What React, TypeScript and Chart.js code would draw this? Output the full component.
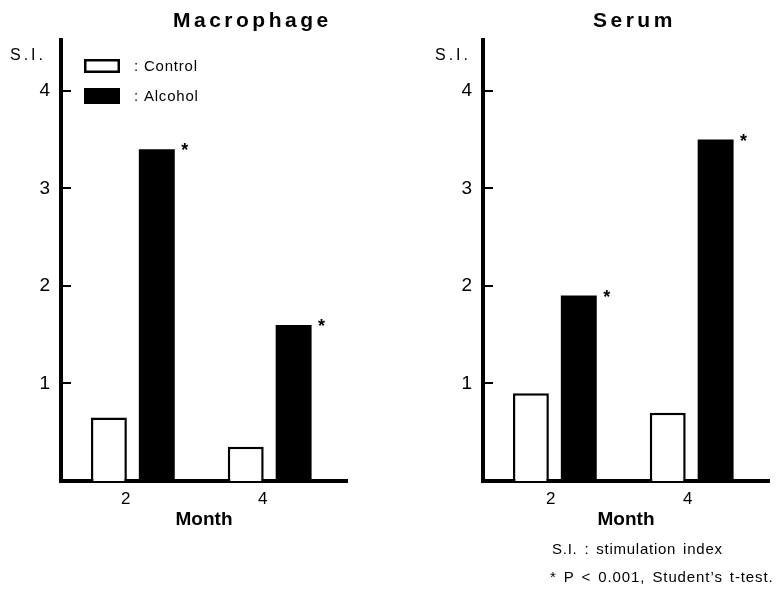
import React, { useEffect, useRef } from 'react';
import { Chart, registerables } from 'chart.js';

Chart.register(...registerables);

const FONT = "'Liberation Sans', Arial, Helvetica, sans-serif";

// Data
const months = [2, 4];
const seriesNames = ['Control', 'Alcohol'];
const yTicks = [1, 2, 3, 4];
const macrophageControl = [0.65, 0.35];
const macrophageAlcohol = [3.4, 1.6];
const macrophageSignificant = [true, true];
const serumControl = [0.9, 0.7];
const serumAlcohol = [1.9, 3.5];
const serumSignificant = [true, true];

const panelTitles = ['Macrophage', 'Serum'];
const yAxisLabel = 'S.I.';
const xAxisLabel = 'Month';
const footnotes = ['S.I. : stimulation index', '* P < 0.001, Student\u2019s t-test.'];

// Boxed legend drawn inside the plot area (left panel only)
const boxLegend = {
  id: 'boxLegend',
  afterDraw(chart: any, _args: any, opts: any) {
    if (!opts || !opts.display) return;
    const { ctx, chartArea } = chart;
    const x = chartArea.left + 23;
    const rows = [
      { top: chartArea.top + 19, h: 14 },
      { top: chartArea.top + 48, h: 16 },
    ];
    ctx.save();
    chart.data.datasets.forEach((ds: any, i: number) => {
      const r = rows[i];
      if (!r) return;
      const bw = ds.borderWidth || 0;
      ctx.fillStyle = ds.backgroundColor;
      ctx.fillRect(x, r.top, 36, r.h);
      if (bw > 0) {
        ctx.strokeStyle = ds.borderColor;
        ctx.lineWidth = bw;
        ctx.strokeRect(x + bw / 2, r.top + bw / 2, 36 - bw, r.h - bw);
      }
      ctx.fillStyle = '#000';
      ctx.font = `15px ${FONT}`;
      (ctx as any).letterSpacing = '0.8px';
      ctx.textAlign = 'left';
      ctx.textBaseline = 'middle';
      ctx.fillText(`: ${ds.label}`, x + 50, r.top + r.h / 2 + 1);
    });
    ctx.restore();
  },
};

// Significance asterisks next to the Alcohol bars
const starMarks = {
  id: 'starMarks',
  afterDatasetsDraw(chart: any, _args: any, opts: any) {
    const flags: boolean[] = (opts && opts.flags) || [];
    const meta = chart.getDatasetMeta(1);
    const { ctx } = chart;
    ctx.save();
    ctx.font = `bold 18px ${FONT}`;
    ctx.fillStyle = '#000';
    ctx.textAlign = 'center';
    ctx.textBaseline = 'alphabetic';
    meta.data.forEach((el: any, i: number) => {
      if (!flags[i]) return;
      const { x, y, width } = el.getProps(['x', 'y', 'width'], true);
      ctx.fillText('*', x + width / 2 + 10, y + 7);
    });
    ctx.restore();
  },
};

type PanelProps = {
  left: number;
  width: number;
  yWidth: number;
  padRight: number;
  labelOffset: number;
  control: number[];
  alcohol: number[];
  flags: boolean[];
  legend: boolean;
};

function BarPanel(p: PanelProps) {
  const ref = useRef<HTMLCanvasElement>(null);
  useEffect(() => {
    const chart = new Chart(ref.current as HTMLCanvasElement, {
      type: 'bar',
      data: {
        datasets: [
          {
            label: seriesNames[0],
            data: months.map((m, i) => ({ x: m, y: p.control[i] })),
            backgroundColor: '#ffffff',
            borderColor: '#000000',
            borderWidth: 2.5,
          },
          {
            label: seriesNames[1],
            data: months.map((m, i) => ({ x: m, y: p.alcohol[i] })),
            backgroundColor: '#000000',
            borderColor: '#000000',
            borderWidth: 0,
          },
        ],
      } as any,
      options: {
        animation: false,
        responsive: false,
        layout: { padding: { top: 40, right: p.padRight, bottom: 61, left: 0 } },
        datasets: { bar: { categoryPercentage: 0.7, barPercentage: 0.75 } },
        plugins: {
          legend: { display: false },
          tooltip: { enabled: false },
          boxLegend: { display: p.legend },
          starMarks: { flags: p.flags },
        } as any,
        scales: {
          x: {
            type: 'linear',
            min: 0.95,
            max: 5.13,
            offset: false,
            afterBuildTicks: (s: any) => {
              s.ticks = months.map((v) => ({ value: v }));
            },
            afterFit: (s: any) => {
              s.height = 50;
            },
            grid: { display: false, drawTicks: false, offset: false },
            border: { display: true, width: 4, color: '#000' },
            ticks: {
              color: '#000',
              font: { family: FONT, size: 17 },
              padding: 8,
              labelOffset: p.labelOffset,
              callback: (v: any) => String(v),
            },
            title: {
              display: true,
              text: xAxisLabel,
              color: '#000',
              font: { family: FONT, size: 19, weight: 'bold' },
              padding: 0,
            },
          },
          y: {
            type: 'linear',
            min: 0,
            max: 4.52,
            afterBuildTicks: (s: any) => {
              s.ticks = yTicks.map((v) => ({ value: v }));
            },
            afterFit: (s: any) => {
              s.width = p.yWidth;
            },
            grid: {
              display: true,
              drawOnChartArea: false,
              drawTicks: true,
              tickLength: -10,
              lineWidth: 2,
              color: '#000',
            },
            border: { display: true, width: 4, color: '#000' },
            ticks: { color: '#000', font: { family: FONT, size: 19 }, padding: 21 },
          },
        } as any,
      },
      plugins: [boxLegend, starMarks],
    });
    return () => chart.destroy();
  }, []);
  return (
    <div style={{ position: 'absolute', left: p.left, top: 0, width: p.width, height: 592 }}>
      <canvas ref={ref} width={p.width} height={592} style={{ display: 'block' }} />
    </div>
  );
}

function Label(props: {
  left: number;
  top: number;
  size: number;
  bold?: boolean;
  spacing?: number;
  wordSpacing?: number;
  children: React.ReactNode;
}) {
  return (
    <div
      style={{
        position: 'absolute',
        left: props.left,
        top: props.top,
        fontFamily: FONT,
        fontSize: props.size,
        lineHeight: `${props.size}px`,
        fontWeight: props.bold ? 'bold' : 'normal',
        letterSpacing: props.spacing ? `${props.spacing}px` : undefined,
        wordSpacing: props.wordSpacing ? `${props.wordSpacing}px` : undefined,
        whiteSpace: 'nowrap',
        color: '#000',
      }}
    >
      {props.children}
    </div>
  );
}

export default function App() {
  return (
    <div
      style={{
        position: 'absolute',
        left: 0,
        top: 0,
        width: 778,
        height: 592,
        background: '#fff',
        overflow: 'hidden',
      }}
    >
      <BarPanel
        left={0}
        width={390}
        yWidth={61}
        padRight={43}
        labelOffset={-7}
        control={macrophageControl}
        alcohol={macrophageAlcohol}
        flags={macrophageSignificant}
        legend={true}
      />
      <BarPanel
        left={390}
        width={388}
        yWidth={93}
        padRight={9}
        labelOffset={-4}
        control={serumControl}
        alcohol={serumAlcohol}
        flags={serumSignificant}
        legend={false}
      />
      <Label left={173} top={9} size={21} bold spacing={3.5}>
        {panelTitles[0]}
      </Label>
      <Label left={593} top={9} size={21} bold spacing={3.5}>
        {panelTitles[1]}
      </Label>
      <Label left={10} top={47} size={16} spacing={3}>
        {yAxisLabel}
      </Label>
      <Label left={435} top={47} size={16} spacing={3}>
        {yAxisLabel}
      </Label>
      <Label left={552} top={541} size={15} spacing={0.75} wordSpacing={2}>
        {footnotes[0]}
      </Label>
      <Label left={550} top={569} size={15} spacing={0.9} wordSpacing={2}>
        {footnotes[1]}
      </Label>
    </div>
  );
}
